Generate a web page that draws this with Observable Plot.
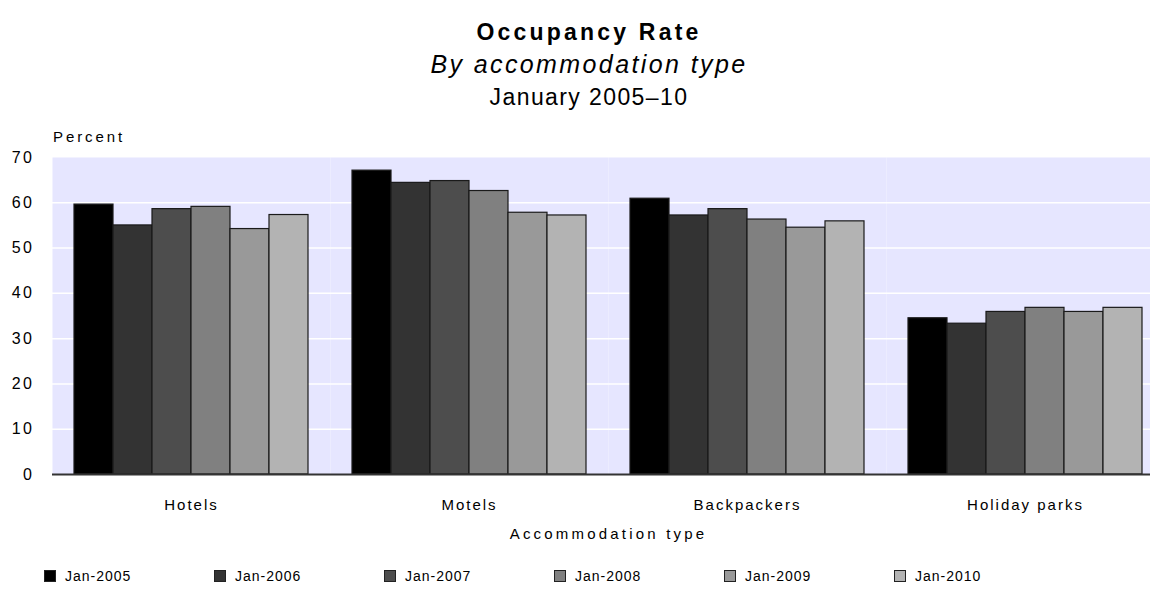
<!DOCTYPE html>
<html>
<head>
<meta charset="utf-8">
<script src="https://cdn.jsdelivr.net/npm/d3@7"></script>
<script src="https://cdn.jsdelivr.net/npm/@observablehq/plot@0.6"></script>
<style>
  html, body { margin: 0; padding: 0; background: #fff; }
  #wrap { position: relative; width: 1150px; height: 599px; overflow: hidden; font-family: "Liberation Sans", Arial, sans-serif; color: #000; }
  .ttl { position: absolute; left: 14px; width: 1150px; text-align: center; white-space: nowrap; }
  #title { top: 19px; font-size: 23px; line-height: 26px; font-weight: bold; letter-spacing: 3.2px; }
  #subtitle { top: 50px; font-size: 25px; line-height: 28px; font-style: italic; letter-spacing: 2.4px; }
  #date { top: 84px; font-size: 23px; line-height: 26px; letter-spacing: 1.4px; }
  #ylabel { position: absolute; left: 53px; top: 128px; font-size: 15px; line-height: 18px; letter-spacing: 2.9px; }
  #chart { position: absolute; left: 0; top: 120px; width: 1164px; }
  #chart svg { overflow: hidden; max-width: none; }
  #chart g[aria-label^="y-axis"] text { font-size: 16px; letter-spacing: 2.5px; }
  #chart g[aria-label^="fx-axis"] text { font-size: 15px; letter-spacing: 2px; }
  #chart g[aria-label="fx-axis label"] text { letter-spacing: 3.2px; }
  #legend { position: absolute; left: 44px; top: 568px; display: flex; font-size: 14px; line-height: 16px; letter-spacing: 1px; }
  .item { width: 170px; display: flex; align-items: center; }
  .sw { width: 10px; height: 10px; border: 1px solid #222; margin-right: 9px; }
</style>
</head>
<body>
<div id="wrap">
  <div id="title" class="ttl">Occupancy Rate</div>
  <div id="subtitle" class="ttl">By accommodation type</div>
  <div id="date" class="ttl">January 2005–10</div>
  <div id="ylabel">Percent</div>
  <div id="chart"></div>
  <div id="legend"></div>
</div>
<script>
const categories = ["Hotels", "Motels", "Backpackers", "Holiday parks"];
const years = ["Jan-2005", "Jan-2006", "Jan-2007", "Jan-2008", "Jan-2009", "Jan-2010"];
const hotels = [59.6, 55.0, 58.6, 59.1, 54.2, 57.3];
const motels = [67.1, 64.4, 64.8, 62.6, 57.8, 57.2];
const backpackers = [60.9, 57.2, 58.6, 56.3, 54.5, 55.9];
const holidayParks = [34.5, 33.3, 35.9, 36.8, 35.9, 36.8];
const yTicks = [0, 10, 20, 30, 40, 50, 60, 70];
const gridTicks = [10, 20, 30, 40, 50, 60];
const colors = ["#000000", "#333333", "#4d4d4d", "#808080", "#999999", "#b3b3b3"];

const series = [hotels, motels, backpackers, holidayParks];
const data = [];
categories.forEach((c, i) => years.forEach((yr, j) => data.push({type: c, year: yr, value: series[i][j]})));

const chart = Plot.plot({
  width: 1164,
  height: 424,
  marginTop: 37,
  marginBottom: 70,
  marginLeft: 51,
  marginRight: 0,
  style: {fontFamily: "Liberation Sans, Arial, sans-serif", color: "#000", background: "transparent", maxWidth: "none"},
  fx: {domain: categories, padding: 0, label: "Accommodation type", tickSize: 0, tickPadding: 25, labelOffset: 64},
  x: {domain: years, paddingInner: 0, paddingOuter: 0.478, axis: null},
  y: {domain: [0, 70], ticks: yTicks, tickSize: 0, tickPadding: 18, label: null},
  color: {domain: years, range: colors},
  marks: [
    Plot.frame({fill: "#e6e6ff", stroke: "none"}),
    Plot.ruleY(gridTicks, {stroke: "#ffffff", strokeWidth: 1.5}),
    Plot.barY(data, {fx: "type", x: "year", y: "value", fill: "year", stroke: "#1a1a1a", strokeWidth: 1.2}),
    Plot.ruleY([0], {stroke: "#333333", strokeWidth: 2})
  ]
});
document.getElementById("chart").appendChild(chart);

const legend = document.getElementById("legend");
years.forEach((yr, j) => {
  const it = document.createElement("div");
  it.className = "item";
  const sw = document.createElement("span");
  sw.className = "sw";
  sw.style.background = colors[j];
  const tx = document.createElement("span");
  tx.textContent = yr;
  it.appendChild(sw); it.appendChild(tx);
  legend.appendChild(it);
});
</script>
</body>
</html>
